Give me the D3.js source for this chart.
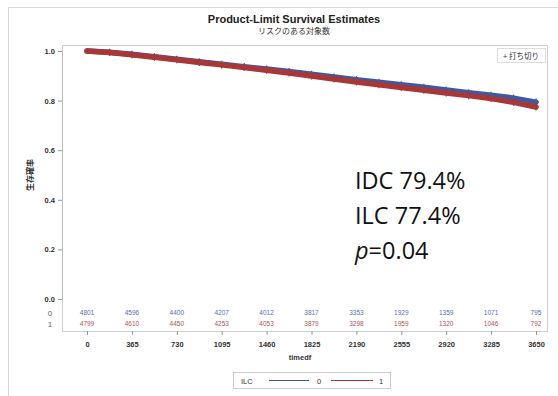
<!DOCTYPE html>
<html>
<head>
<meta charset="utf-8">
<script src="https://cdn.jsdelivr.net/npm/d3@7"></script>
<style>
  body { margin: 0; background: #fff; }
  svg { display: block; font-family: "Liberation Sans", Arial, sans-serif; }
</style>
</head>
<body>
<div id="chart"></div>
<script>
// survival estimates, every half year
const days = [0, 183, 365, 548, 730, 913, 1095, 1278, 1460, 1643, 1825, 2008, 2190, 2373, 2555, 2738, 2920, 3103, 3285, 3468, 3650];
const idc = [1.0, 0.995, 0.987, 0.977, 0.967, 0.957, 0.947, 0.937, 0.927, 0.917, 0.906, 0.895, 0.884, 0.874, 0.864, 0.854, 0.843, 0.832, 0.822, 0.810, 0.794];
const ilc = [1.0, 0.994, 0.985, 0.975, 0.965, 0.954, 0.944, 0.933, 0.922, 0.911, 0.899, 0.887, 0.875, 0.864, 0.853, 0.842, 0.831, 0.820, 0.808, 0.793, 0.774];

const xTicks = [0, 365, 730, 1095, 1460, 1825, 2190, 2555, 2920, 3285, 3650];
const yTicks = [0, 0.2, 0.4, 0.6, 0.8, 1.0];
const riskIdc = [4801, 4596, 4400, 4207, 4012, 3817, 3353, 1929, 1359, 1071, 795];
const riskIlc = [4799, 4610, 4450, 4253, 4053, 3879, 3298, 1959, 1320, 1046, 792];

const blue = "#3f5a9c", red = "#a83838";
const W = 558, H = 396;

const svg = d3.select("#chart").append("svg").attr("width", W).attr("height", H);

// outer frame
svg.append("rect").attr("x", 8.5).attr("y", 7.5).attr("width", W - 4).attr("height", H)
  .attr("fill", "none").attr("stroke", "#d8d8d8");

const x = d3.scaleLinear().domain([0, 3650]).range([87, 536]);
const y = d3.scaleLinear().domain([0, 1]).range([299, 51]);

// plot frame
svg.append("rect").attr("x", 62.5).attr("y", 45.5).attr("width", 485).attr("height", 286)
  .attr("fill", "none").attr("stroke", "#d0d0d0");

// titles
svg.append("text").attr("x", 294).attr("y", 23).attr("text-anchor", "middle")
  .attr("font-size", 11).attr("font-weight", "bold").attr("fill", "#222")
  .text("Product-Limit Survival Estimates");
svg.append("text").attr("x", 294).attr("y", 34).attr("text-anchor", "middle")
  .attr("font-size", 8).attr("font-family", "Noto Sans CJK JP").attr("fill", "#333")
  .text("リスクのある対象数");

// y axis
const yAxis = svg.append("g").attr("transform", "translate(62,0)")
  .call(d3.axisLeft(y).tickValues(yTicks).tickFormat(d3.format(".1f")).tickSize(4));
yAxis.select(".domain").attr("stroke", "#bbb");
yAxis.selectAll(".tick line").attr("stroke", "#999");
yAxis.selectAll("text").attr("font-size", 7.5).attr("font-weight", "bold").attr("fill", "#333")
  .attr("font-family", "Liberation Sans");

svg.append("text").attr("transform", "translate(33,175) rotate(-90)")
  .attr("text-anchor", "middle").attr("font-size", 8).attr("font-weight", "bold")
  .attr("font-family", "Noto Sans CJK JP").attr("fill", "#333").text("生存確率");

// x axis
const xAxis = svg.append("g").attr("transform", "translate(0,331)")
  .call(d3.axisBottom(x).tickValues(xTicks).tickFormat(d3.format("d")).tickSize(4));
xAxis.select(".domain").remove();
xAxis.selectAll(".tick line").attr("stroke", "#999");
xAxis.selectAll("text").attr("font-size", 7.5).attr("font-weight", "bold").attr("fill", "#333")
  .attr("dy", "1.2em").attr("font-family", "Liberation Sans");

svg.append("text").attr("x", 300).attr("y", 360).attr("text-anchor", "middle")
  .attr("font-size", 7.5).attr("font-weight", "bold").attr("fill", "#333").text("timedf");

// survival curves
const line = d3.line().x(d => x(d[0])).y(d => y(d[1]));
[[idc, blue], [ilc, red]].forEach(([vals, col]) => {
  const pts = days.map((d, i) => [d, vals[i]]);
  svg.append("path").datum(pts).attr("d", line)
    .attr("fill", "none").attr("stroke", col).attr("stroke-width", 5.5).attr("stroke-linecap", "round");
  svg.append("g").selectAll("path").data(pts.slice(1)).join("path")
    .attr("d", d => `M${x(d[0]) - 2.5},${y(d[1])}h5M${x(d[0])},${y(d[1]) - 3.5}v7`)
    .attr("stroke", col).attr("stroke-width", 1.2);
});

// censor legend
svg.append("rect").attr("x", 497.5).attr("y", 48.5).attr("width", 48).attr("height", 14)
  .attr("fill", "#fff").attr("stroke", "#ddd");
svg.append("text").attr("x", 521).attr("y", 59).attr("text-anchor", "middle")
  .attr("font-size", 7.5).attr("font-family", "Noto Sans CJK JP").attr("fill", "#333").text("+ 打ち切り");

// number at risk
svg.append("text").attr("x", 50).attr("y", 316).attr("text-anchor", "middle")
  .attr("font-size", 8).attr("fill", "#666").text("0");
svg.append("text").attr("x", 50).attr("y", 327).attr("text-anchor", "middle")
  .attr("font-size", 8).attr("fill", "#666").text("1");
svg.append("g").selectAll("text").data(xTicks).join("text")
  .attr("x", d => x(d)).attr("y", 315).attr("text-anchor", "middle")
  .attr("font-size", 6.5).attr("fill", "#5a6ea8").text((d, i) => riskIdc[i]);
svg.append("g").selectAll("text").data(xTicks).join("text")
  .attr("x", d => x(d)).attr("y", 326).attr("text-anchor", "middle")
  .attr("font-size", 6.5).attr("fill", "#b05555").text((d, i) => riskIlc[i]);

// bottom legend
const lg = svg.append("g").attr("transform", "translate(233,372)");
lg.append("rect").attr("x", 0.5).attr("y", 0.5).attr("width", 157).attr("height", 16)
  .attr("fill", "#fff").attr("stroke", "#ccc");
lg.append("text").attr("x", 8).attr("y", 11.5).attr("font-size", 7.5).attr("fill", "#333").text("ILC");
lg.append("line").attr("x1", 36).attr("x2", 76).attr("y1", 8.5).attr("y2", 8.5).attr("stroke", blue);
lg.append("text").attr("x", 84).attr("y", 11.5).attr("font-size", 7.5).attr("fill", "#333").text("0");
lg.append("line").attr("x1", 98).attr("x2", 140).attr("y1", 8.5).attr("y2", 8.5).attr("stroke", red);
lg.append("text").attr("x", 146).attr("y", 11.5).attr("font-size", 7.5).attr("fill", "#333").text("1");

// annotation
const note = svg.append("g").attr("font-family", "Open Sans, sans-serif").attr("font-size", 23.5).attr("fill", "#111");
note.append("text").attr("x", 355).attr("y", 189).text("IDC 79.4%");
note.append("text").attr("x", 355).attr("y", 224).text("ILC 77.4%");
const pt = note.append("text").attr("x", 355).attr("y", 259);
pt.append("tspan").attr("font-style", "italic").text("p");
pt.append("tspan").text("=0.04");
</script>
</body>
</html>
